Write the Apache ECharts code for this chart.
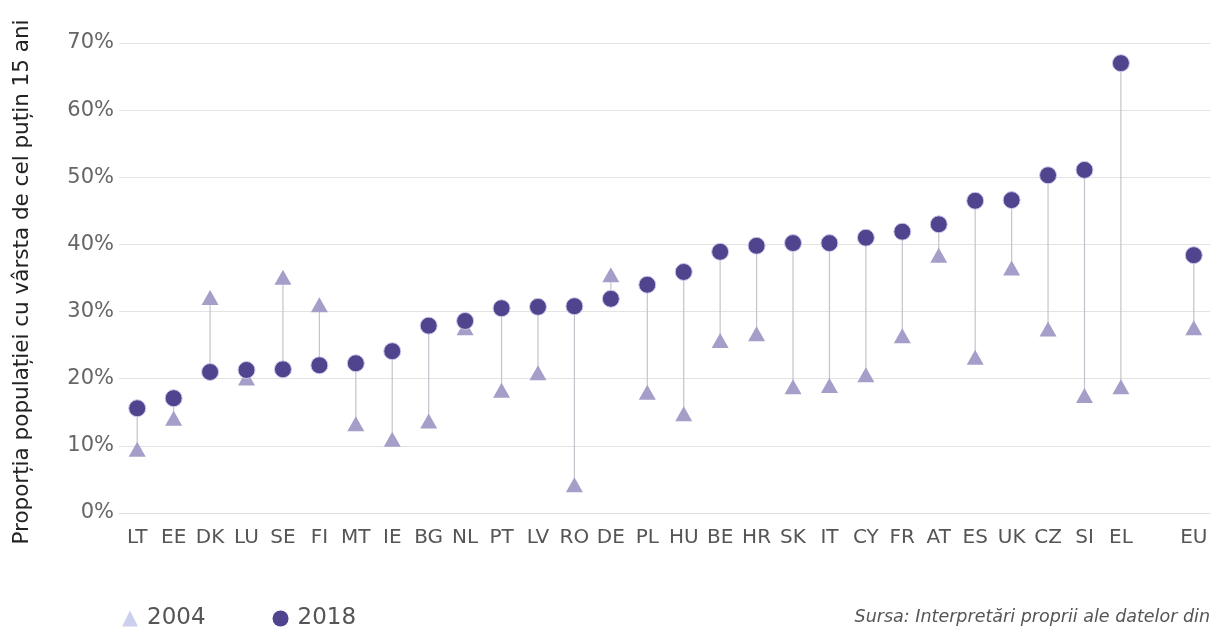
<!DOCTYPE html>
<html>
<head>
<meta charset="utf-8">
<script src="https://cdn.jsdelivr.net/npm/echarts@6/dist/echarts.min.js"></script>
<style>
  html, body { margin: 0; padding: 0; background: #fff; }
  #chart { width: 1210px; height: 628px; }
</style>
</head>
<body>
<div id="chart"></div>
<script>
// tari (categoria goala separa EU de restul)
const countries = ['LT', 'EE', 'DK', 'LU', 'SE', 'FI', 'MT', 'IE', 'BG', 'NL', 'PT', 'LV', 'RO', 'DE', 'PL',
  'HU', 'BE', 'HR', 'SK', 'IT', 'CY', 'FR', 'AT', 'ES', 'UK', 'CZ', 'SI', 'EL', '', 'EU']
const values2004 = [9.5, 14.1, 32.1, 20.1, 35.1, 31.0, 13.3, 11.0, 13.7, 27.6, 18.3, 20.9, 4.2, 35.5, 18.0,
  14.8, 25.7, 26.7, 18.8, 19.0, 20.6, 26.4, 38.4, 23.2, 36.5, 27.4, 17.5, 18.8, null, 27.6]
const values2018 = [15.6, 17.1, 21.0, 21.3, 21.4, 22.0, 22.3, 24.1, 27.9, 28.6, 30.5, 30.7, 30.8, 31.9, 34.0,
  35.9, 38.9, 39.8, 40.2, 40.2, 41.0, 41.9, 43.0, 46.5, 46.6, 50.3, 51.1, 67.0, null, 38.4]
const yTicks = [0, 10, 20, 30, 40, 50, 60, 70]

const font = 'DejaVu Sans'

// perechi pentru liniile verticale
const ranges = countries.map((c, i) => [i, values2004[i], values2018[i]])

const chart = echarts.init(document.getElementById('chart'))

const option = {
  animation: false,
  textStyle: { fontFamily: font },
  grid: { left: 119, right: -2, top: 43, bottom: 115, outerBoundsMode: 'none' },
  legend: {
    left: 122,
    top: 607,
    padding: 0,
    itemGap: 67,
    itemWidth: 16,
    itemHeight: 16,
    textStyle: { fontSize: 23, color: '#555', fontFamily: font, padding: [0, 0, 0, 4] },
    data: [
      { name: '2004', icon: 'triangle', itemStyle: { color: '#cdd0ec', borderWidth: 0 } },
      { name: '2018', icon: 'circle', itemStyle: { color: '#51448f', borderWidth: 0 } }
    ]
  },
  graphic: [
    {
      type: 'text',
      right: 0,
      top: 608,
      style: {
        text: 'Sursa: Interpretări proprii ale datelor din',
        fontSize: 17.5,
        fontStyle: 'italic',
        fontFamily: font,
        fill: '#555'
      }
    }
  ],
  xAxis: {
    type: 'category',
    data: countries,
    boundaryGap: true,
    axisLine: { lineStyle: { color: '#e0e0e0' } },
    axisTick: { show: false },
    axisLabel: { interval: 0, fontSize: 20, color: '#555', margin: 15 }
  },
  yAxis: {
    type: 'value',
    min: yTicks[0],
    max: yTicks[yTicks.length - 1],
    interval: 10,
    name: 'Proporția populației cu vârsta de cel puțin 15 ani',
    nameLocation: 'middle',
    nameRotate: 90,
    nameGap: 86,
    nameTextStyle: { fontSize: 21.5, color: '#222', fontFamily: font, padding: [0, 8, 0, 0] },
    axisLine: { show: false },
    axisTick: { show: false },
    axisLabel: { formatter: '{value}%', fontSize: 21, color: '#666', margin: 5 },
    splitLine: { lineStyle: { color: '#e3e3e3', width: 1 } }
  },
  series: [
    {
      type: 'custom',
      name: 'lines',
      z: 1,
      silent: true,
      data: ranges.filter(r => r[1] != null),
      encode: { x: 0, y: [1, 2] },
      renderItem: (params, api) => {
        const a = api.coord([api.value(0), api.value(1)])
        const b = api.coord([api.value(0), api.value(2)])
        return {
          type: 'line',
          shape: { x1: a[0], y1: a[1], x2: b[0], y2: b[1] },
          style: { stroke: '#c4c4cc', lineWidth: 1.2 }
        }
      }
    },
    {
      type: 'scatter',
      name: '2004',
      z: 2,
      symbol: 'triangle',
      symbolSize: [17, 15],
      itemStyle: { color: '#a49ec8', opacity: 1 },
      data: values2004
    },
    {
      type: 'scatter',
      name: '2018',
      z: 3,
      symbol: 'circle',
      symbolSize: 17,
      itemStyle: { color: '#51448f', borderColor: '#c9cbea', borderWidth: 1, opacity: 1 },
      data: values2018
    }
  ]
}

chart.setOption(option)
</script>
</body>
</html>
